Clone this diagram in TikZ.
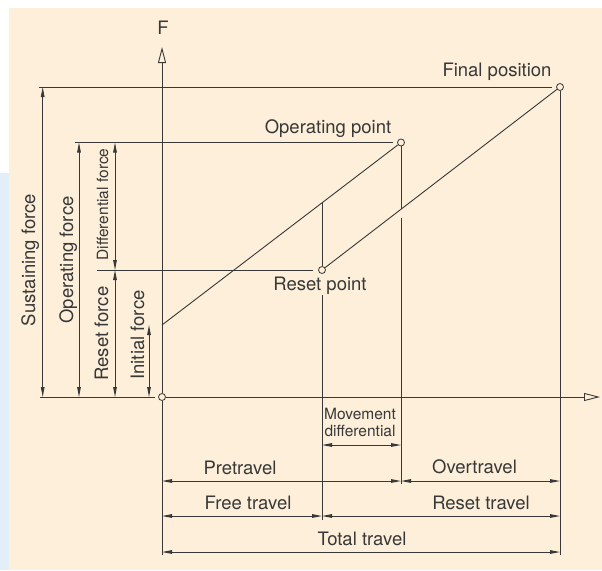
\documentclass[tikz,border=0pt]{standalone}
\usepackage{fontspec}
\setmainfont{TeX Gyre Heros}
\usetikzlibrary{arrows.meta}
\definecolor{bgbeige}{HTML}{FDEFD9}
\definecolor{bgblue}{HTML}{E2EEF8}
\definecolor{ink}{HTML}{383838}
\begin{document}
\begin{tikzpicture}[x=1pt,y=-1pt,
  line/.style={draw=ink, line width=0.9pt},
  dim/.style={line, {Triangle[length=10pt,width=3.6pt]}-{Triangle[length=10pt,width=3.6pt]}},
  axis/.style={line, -{Triangle[open,length=16pt,width=8pt]}},
  pt/.style={circle, draw=ink, fill=bgbeige, line width=0.8pt, inner sep=0pt, minimum size=7pt},
  lbl/.style={text=ink, font=\fontsize{18.5}{20}\selectfont, inner sep=0pt, anchor=base},
  small/.style={lbl, font=\fontsize{15.5}{17}\selectfont}]
% background
\useasboundingbox (0,0) rectangle (602,570);
\fill[white] (0,0) rectangle (602,570);
\fill[bgbeige] (9,8) rectangle (602,570);
\fill[bgblue] (0,173) rectangle (9,570);

% points
\node[pt] (O) at (162,397) {};
\node[pt] (OP) at (401,142.5) {};
\node[pt] (RP) at (322,270) {};
\node[pt] (FP) at (560,87) {};
\coordinate (IP) at (162,325);
\coordinate (Ftip) at (162,47);
\coordinate (Xtip) at (600,397);
\coordinate (Obot) at (162,555);
\coordinate (Rup) at (322,202.5);
\coordinate (Rlo1) at (322,295);
\coordinate (Rlo2) at (322,520);
\coordinate (Oplo) at (401,209.3);
\coordinate (Op1) at (401,218);
\coordinate (Op2) at (401,484);
\coordinate (Fbot) at (560,555);
\coordinate (Ls) at (39,87);
\coordinate (Lo) at (75,142.5);
\coordinate (Lr) at (97,270);
\coordinate (Lb) at (40,397);

% axes
\draw[axis] (O) -- (Ftip);
\draw[axis] (O) -- (Xtip);
\node[lbl] (Flab) at (163,34) {F};

% characteristic lines
\draw[line] (IP) -- (OP);
\draw[line] (RP) -- (FP);
\draw[line] (Rup) -- (RP);
\draw[line] (Rlo1) -- (Rlo2);
\draw[line] (OP) -- (Oplo);
\draw[line] (Op1) -- (Op2);
\draw[line] (FP) -- (Fbot);
\draw[line] (O) -- (Obot);

% horizontal extension lines
\draw[line, shorten >=4pt] (Ls) -- (FP);
\draw[line, shorten >=4pt] (Lo) -- (OP);
\draw[line, shorten >=5pt] (Lr) -- (RP);
\draw[line, shorten >=3pt] (Lb) -- (O);

% vertical dimensions
\coordinate (s1) at (42.7,87);  \coordinate (s2) at (42.7,397);
\coordinate (o1) at (79,142.5); \coordinate (o2) at (79,397);
\coordinate (d1) at (115,142.5);\coordinate (d2) at (115,270);
\coordinate (r1) at (115,270);  \coordinate (r2) at (115,397);
\coordinate (i1) at (149,325);  \coordinate (i2) at (149,397);
\draw[dim] (s1) -- (s2);
\draw[dim] (o1) -- (o2);
\draw[dim] (d1) -- (d2);
\draw[dim] (r1) -- (r2);
\draw[dim] (i1) -- (i2);

\node[lbl, rotate=90] (tSus) at (35,260) {Sustaining force};
\node[lbl, rotate=90] (tOpf) at (73,260) {Operating force};
\node[small, rotate=90] (tDif) at (108,204.5) {Differential force};
\node[lbl, rotate=90] (tRes) at (108,333.5) {Reset force};
\node[lbl, rotate=90] (tIni) at (144,335) {Initial force};

% horizontal dimensions
\coordinate (m1) at (322,445); \coordinate (m2) at (401,445);
\coordinate (p1) at (162,481); \coordinate (p2) at (401,481); \coordinate (p3) at (560,481);
\coordinate (f1) at (162,516); \coordinate (f2) at (322,516); \coordinate (f3) at (560,516);
\coordinate (t1) at (162,552); \coordinate (t2) at (560,552);
\draw[dim] (m1) -- (m2);
\draw[dim] (p1) -- (p2);
\draw[dim] (p2) -- (p3);
\draw[dim] (f1) -- (f2);
\draw[dim] (f2) -- (f3);
\draw[dim] (t1) -- (t2);

\node[small] (tMov1) at (360,419) {Movement};
\node[small] (tMov2) at (360,436) {differential};
\node[lbl] (tPre) at (240,474) {Pretravel};
\node[lbl] (tOver) at (474.5,473) {Overtravel};
\node[lbl] (tFree) at (248,509.5) {Free travel};
\node[lbl] (tRest) at (481,509) {Reset travel};
\node[lbl] (tTot) at (362,545) {Total travel};

% point labels
\node[lbl] (tOP) at (328,133) {Operating point};
\node[lbl] (tRP) at (320,290) {Reset point};
\node[lbl] (tFP) at (497,76) {Final position};
\end{tikzpicture}
\end{document}
